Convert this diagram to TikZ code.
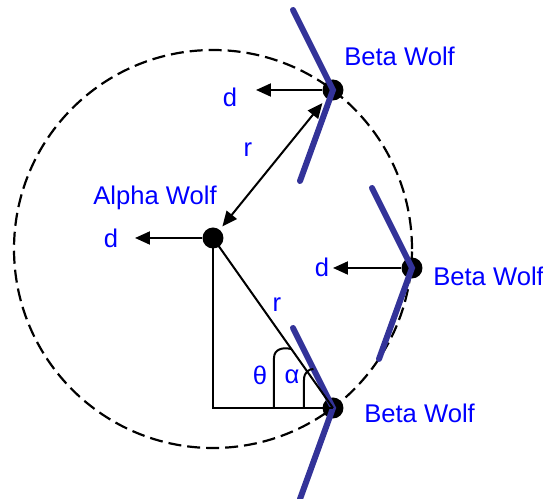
\documentclass[tikz,border=0pt]{standalone}
\usepackage{fontspec}
\setmainfont{Liberation Sans}
\usepackage{tikz}
\usetikzlibrary{
  positioning,
  arrows.meta
}
\definecolor{wolfline}{RGB}{51,51,153}
\definecolor{wolftext}{RGB}{0,0,255}
\tikzset{
  wolfdot/.style={
    circle, fill=black, inner sep=0pt, minimum size=10.5pt
  },
  wolflabel/.style={
    text=wolftext, inner sep=0pt,
    font=\fontsize{12.8}{14}\selectfont
  },
  heading/.style={
    draw=wolfline, line width=3pt, line cap=round
  },
  movearrow/.style={
    ->, >={Triangle[length=7.5pt,width=6.5pt]}, line width=1pt, draw=black
  },
  rangeline/.style={
    draw=black, line width=1.1pt, dash pattern=on 6.5pt off 3pt
  },
  thinline/.style={
    draw=black, line width=1pt
  }
}

\begin{document}
\begin{tikzpicture}[x=0.5pt, y=0.5pt]
    \useasboundingbox (0,0) rectangle (543,499);

    \draw[rangeline] (213,250) circle[radius=199];

    \node[wolfdot] (alpha) at (213,261) {};
    \node[wolfdot] (btop) at (333,409) {};
    \node[wolfdot] (bright) at (412,231) {};
    \node[wolfdot] (bbot) at (333,91) {};

    \foreach \w in {btop,bright,bbot}
      \draw[heading] (\w.center) ++(-40,80) -- (\w.center) -- ++(-33,-91);

    \node[wolflabel, right=0pt of btop, yshift=17pt] (ltop) {Beta Wolf};
    \node[wolflabel, right=5pt of bright, yshift=-4pt] (lright) {Beta Wolf};
    \node[wolflabel, right=10pt of bbot, yshift=-2.5pt] (lbot) {Beta Wolf};
    \node[wolflabel] (lalpha) at (155,301) {Alpha Wolf};

    \coordinate (dtopend) at (256,409);
    \coordinate (dalphaend) at (135,261);
    \coordinate (drightend) at (333,231);

    \draw[movearrow] (btop) -- (dtopend);
    \draw[movearrow] (alpha) -- (dalphaend);
    \draw[movearrow] (bright) -- (drightend);
    \draw[movearrow, <->, shorten <=3pt, shorten >=2pt] (btop) -- (alpha);

    \node[wolflabel] (dtop) at (230,402) {d};
    \node[wolflabel] (dalpha) at (111,261) {d};
    \node[wolflabel] (dright) at (322,232) {d};
    \node[wolflabel] (rtop) at (248,349) {r};
    \node[wolflabel] (rbot) at (277,194) {r};

    % triangle and the two angles
    \coordinate (corner) at (213,91);
    \draw[thinline] (alpha.center) -- (corner) -- (bbot.center);
    \draw[thinline] (alpha.center) -- (bbot.center);
    \draw[thinline] (274,91) -- (274,141) .. controls (274,150) and (283,152) .. (291,150);
    \draw[thinline] (304,91) -- (304,119) .. controls (304,127) and (309,130) .. (313.5,130);

    \node[wolflabel] (theta) at (260,124) {θ};
    \node[wolflabel] (ang) at (292,122) {α};

\end{tikzpicture}
\end{document}
